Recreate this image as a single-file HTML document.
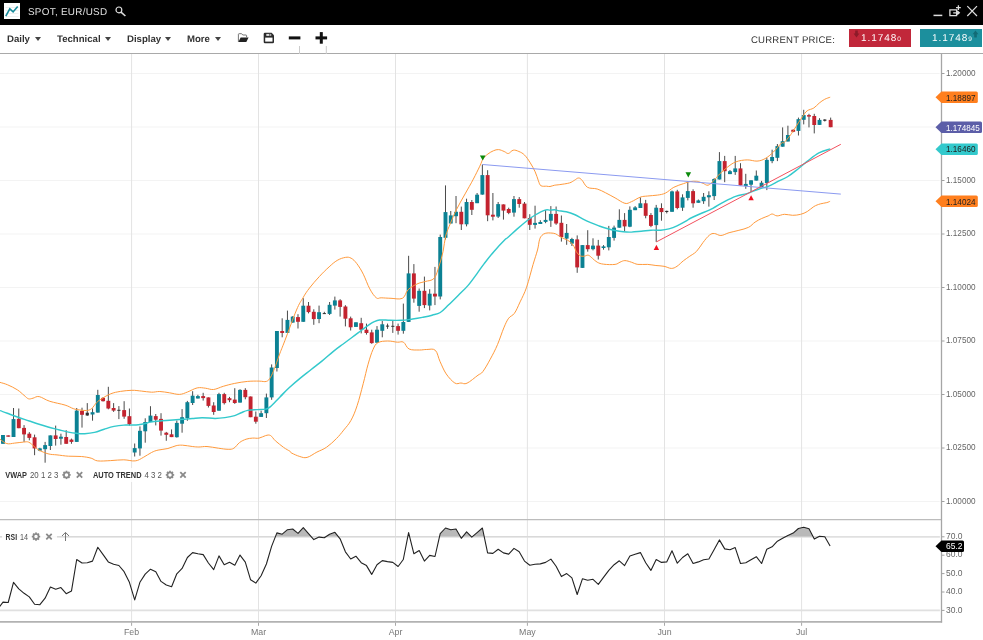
<!DOCTYPE html>
<html><head><meta charset="utf-8"><title>SPOT, EUR/USD</title>
<style>
html,body{margin:0;padding:0;background:#fff;overflow:hidden}
body{width:983px;height:640px;position:relative;font-family:"Liberation Sans",sans-serif}
#tb{position:absolute;left:0;top:0;width:983px;height:25px;background:#000}
#tb .ttl{position:absolute;left:27.5px;top:4.8px;font-size:9.9px;line-height:13px;color:#e0e0e0;letter-spacing:0.28px;white-space:nowrap;transform:rotate(0.03deg);transform-origin:0 10px}
#bar{position:absolute;left:0;top:25px;width:983px;height:28px;background:#fff;border-bottom:1px solid #a9a9a9}
.mi{position:absolute;top:8.0px;font-size:9.6px;line-height:12px;letter-spacing:0px;transform:rotate(0.03deg);transform-origin:0 9.7px;font-weight:bold;color:#333;white-space:nowrap}
.car{position:absolute;top:12.2px;width:0;height:0;border-left:3.75px solid transparent;border-right:3.75px solid transparent;border-top:4.3px solid #444}
.cp{position:absolute;left:751.3px;top:7.5px;font-size:9.6px;line-height:13px;color:#333;letter-spacing:0.19px;transform:rotate(0.03deg);transform-origin:0 10px;white-space:nowrap}
.px{position:absolute;top:4.2px;height:17.5px;width:62.4px;color:#fff;font-size:10px;line-height:17.5px;letter-spacing:0.95px;white-space:nowrap}
.px small{font-size:6.5px;letter-spacing:0}
</style></head><body>
<div id="tb">
<svg style="position:absolute;left:4px;top:3px" width="16" height="16" viewBox="0 0 16 16"><rect width="16" height="16" fill="#fff"/><path d="M1.5,13.5H14.5M1.5,10.5H14.5M1.5,7.5H14.5M1.5,4.5H14.5" stroke="#efefef" stroke-width="1"/><path d="M1.8,13.2 L5.8,5.8 L9.1,8.9 L13.7,3.4" fill="none" stroke="#178b9b" stroke-width="1.6"/></svg>
<div class="ttl">SPOT, EUR/USD</div>
<svg style="position:absolute;left:114px;top:5px" width="14" height="13" viewBox="0 0 14 13"><circle cx="4.9" cy="4.9" r="2.9" fill="none" stroke="#ddd" stroke-width="1.2"/><path d="M7,7.2 L11.4,11" stroke="#ddd" stroke-width="1.6"/></svg>
<svg style="position:absolute;left:930px;top:3px" width="50" height="16" viewBox="930 3 50 16"><path d="M933.5,15.4H942.3" stroke="#ddd" stroke-width="1.5"/><path d="M949.9,9.8H956.6V15.6H949.9Z M953.2,12.8H959 M957.3,11 L959.3,12.8 L957.3,14.6 M958.4,5.3V10 M956,7.7H960.8" fill="none" stroke="#ddd" stroke-width="1.3"/><path d="M967.3,6.2 L977,16 M977,6.2 L967.3,16" stroke="#ddd" stroke-width="1.2"/></svg>
</div>
<div id="bar">
<div class="mi" style="left:6.8px">Daily</div><div class="car" style="left:34.6px"></div>
<div class="mi" style="left:57px">Technical</div><div class="car" style="left:104.9px"></div>
<div class="mi" style="left:126.8px">Display</div><div class="car" style="left:165.1px"></div>
<div class="mi" style="left:187px">More</div><div class="car" style="left:215px"></div>
<svg style="position:absolute;left:236px;top:6px" width="95" height="23" viewBox="236 31 95 23">
<path d="M238.4,41.8 V34.4 Q238.4,33.7 239.1,33.7 H241.6 L242.8,35 H246 Q246.6,35 246.6,35.7 V37.2" fill="#fff" stroke="#666" stroke-width="0.9"/>
<path d="M240.6,37.4 H248.6 L246.3,42 H238.4 Z" fill="#222"/>
<path d="M264.9,32.8 H271.6 L274,35.2 V42.1 Q274,43.3 272.8,43.3 H264.9 Q263.7,43.3 263.7,42.1 V34 Q263.7,32.8 264.9,32.8 Z" fill="#2a2a2a"/><rect x="266.3" y="33.9" width="4.9" height="2" fill="#ddd"/><rect x="269.2" y="33.9" width="1.2" height="2" fill="#555"/><rect x="265.2" y="37.6" width="7.3" height="4" fill="#fff"/>
<rect x="288.8" y="36.4" width="11.6" height="3" fill="#111"/>
<rect x="315.5" y="36.4" width="11.6" height="3" fill="#111"/><rect x="319.8" y="32.1" width="3" height="11.6" fill="#111"/>
<path d="M299.5,46 V54 M326.3,46 V54" stroke="#ccc" stroke-width="1"/>
</svg>
<div class="cp">CURRENT PRICE:</div>
<div class="px" style="left:849px;background:#c1273a"><span style="position:absolute;left:11.7px;top:0px;transform:rotate(0.03deg)">1.1748<small>0</small></span>
<svg style="position:absolute;left:4px;top:1px" width="7" height="8" viewBox="0 0 7 8"><path d="M2.2,0.4 H4.8 V3.6 H6.4 L3.5,7.4 L0.6,3.6 H2.2 Z" fill="#8c1b29"/></svg></div>
<div class="px" style="left:919.5px;background:#1c8f9d"><span style="position:absolute;left:12.6px;top:0px;transform:rotate(0.03deg)">1.1748<small>9</small></span>
<svg style="position:absolute;left:52px;top:1px" width="7" height="8" viewBox="0 0 7 8"><path d="M2.2,7.4 H4.8 V4.2 H6.4 L3.5,0.4 L0.6,4.2 H2.2 Z" fill="#126b76"/></svg></div>
</div>
<svg width="983" height="586" viewBox="0 54 983 586" style="position:absolute;left:0;top:54px" font-family="Liberation Sans, sans-serif">
<g stroke="#f3f3f3" stroke-width="1">
<line x1="0" y1="73.5" x2="939.7" y2="73.5"/>
<line x1="0" y1="127.0" x2="939.7" y2="127.0"/>
<line x1="0" y1="180.5" x2="939.7" y2="180.5"/>
<line x1="0" y1="234.0" x2="939.7" y2="234.0"/>
<line x1="0" y1="287.5" x2="939.7" y2="287.5"/>
<line x1="0" y1="341.0" x2="939.7" y2="341.0"/>
<line x1="0" y1="394.5" x2="939.7" y2="394.5"/>
<line x1="0" y1="448.0" x2="939.7" y2="448.0"/>
<line x1="0" y1="501.5" x2="939.7" y2="501.5"/>
</g>
<g stroke="#e3e3e3" stroke-width="1">
<line x1="131.6" y1="54" x2="131.6" y2="621"/>
<line x1="258.5" y1="54" x2="258.5" y2="621"/>
<line x1="395.5" y1="54" x2="395.5" y2="621"/>
<line x1="527.4" y1="54" x2="527.4" y2="621"/>
<line x1="664.5" y1="54" x2="664.5" y2="621"/>
<line x1="801.6" y1="54" x2="801.6" y2="621"/>
</g>
<g stroke="#a8a8a8" stroke-width="1">
<line x1="131.6" y1="622.4" x2="131.6" y2="625.8"/>
<line x1="258.5" y1="622.4" x2="258.5" y2="625.8"/>
<line x1="395.5" y1="622.4" x2="395.5" y2="625.8"/>
<line x1="527.4" y1="622.4" x2="527.4" y2="625.8"/>
<line x1="664.5" y1="622.4" x2="664.5" y2="625.8"/>
<line x1="801.6" y1="622.4" x2="801.6" y2="625.8"/>
</g>
<g stroke="#e0e0e0" stroke-width="1.6">
<line x1="0" y1="536.9" x2="939.9" y2="536.9"/>
<line x1="0" y1="610.4" x2="939.9" y2="610.4"/>
</g>
<line x1="0" y1="519.7" x2="941.5" y2="519.6" stroke="#bcbcbc" stroke-width="1.3"/>
<line x1="0" y1="621.8" x2="942.1" y2="621.8" stroke="#b2b2b2" stroke-width="1.7"/>
<line x1="941.5" y1="54" x2="941.5" y2="622.4" stroke="#a6a6a6" stroke-width="1.3"/>
<g stroke="#a0a0a0" stroke-width="1">
<line x1="941.5" y1="73.5" x2="944.5" y2="73.5"/>
<line x1="941.5" y1="127.0" x2="944.5" y2="127.0"/>
<line x1="941.5" y1="180.5" x2="944.5" y2="180.5"/>
<line x1="941.5" y1="234.0" x2="944.5" y2="234.0"/>
<line x1="941.5" y1="287.5" x2="944.5" y2="287.5"/>
<line x1="941.5" y1="341.0" x2="944.5" y2="341.0"/>
<line x1="941.5" y1="394.5" x2="944.5" y2="394.5"/>
<line x1="941.5" y1="448.0" x2="944.5" y2="448.0"/>
<line x1="941.5" y1="501.5" x2="944.5" y2="501.5"/>
<line x1="941.5" y1="536.8" x2="944.5" y2="536.8"/>
<line x1="941.5" y1="555.2" x2="944.5" y2="555.2"/>
<line x1="941.5" y1="573.6" x2="944.5" y2="573.6"/>
<line x1="941.5" y1="592.0" x2="944.5" y2="592.0"/>
<line x1="941.5" y1="610.4" x2="944.5" y2="610.4"/>
</g>
<g stroke="#4a4a4a" stroke-width="1"><line x1="2.98" y1="435.0" x2="2.98" y2="443.8"/><line x1="8.25" y1="435.4" x2="8.25" y2="436.7"/><line x1="13.52" y1="408.0" x2="13.52" y2="437.0"/><line x1="18.78" y1="408.5" x2="18.78" y2="428.2"/><line x1="24.05" y1="425.1" x2="24.05" y2="441.9"/><line x1="29.32" y1="432.1" x2="29.32" y2="440.3"/><line x1="34.59" y1="434.6" x2="34.59" y2="455.2"/><line x1="39.86" y1="447.8" x2="39.86" y2="451.2"/><line x1="45.12" y1="441.9" x2="45.12" y2="462.7"/><line x1="50.39" y1="435.4" x2="50.39" y2="450.0"/><line x1="55.66" y1="425.6" x2="55.66" y2="445.6"/><line x1="60.93" y1="433.7" x2="60.93" y2="444.7"/><line x1="66.20" y1="430.2" x2="66.20" y2="443.8"/><line x1="71.46" y1="438.6" x2="71.46" y2="443.8"/><line x1="76.73" y1="408.0" x2="76.73" y2="441.9"/><line x1="82.00" y1="407.7" x2="82.00" y2="427.6"/><line x1="87.27" y1="403.1" x2="87.27" y2="415.8"/><line x1="92.54" y1="408.5" x2="92.54" y2="420.7"/><line x1="97.80" y1="389.8" x2="97.80" y2="412.6"/><line x1="103.07" y1="397.1" x2="103.07" y2="401.5"/><line x1="108.34" y1="386.8" x2="108.34" y2="409.3"/><line x1="113.61" y1="403.1" x2="113.61" y2="411.9"/><line x1="118.88" y1="406.1" x2="118.88" y2="419.1"/><line x1="124.14" y1="401.2" x2="124.14" y2="418.8"/><line x1="129.41" y1="408.5" x2="129.41" y2="425.6"/><line x1="134.68" y1="443.5" x2="134.68" y2="456.5"/><line x1="139.95" y1="426.4" x2="139.95" y2="455.7"/><line x1="145.22" y1="418.3" x2="145.22" y2="442.7"/><line x1="150.48" y1="406.2" x2="150.48" y2="422.1"/><line x1="155.75" y1="414.0" x2="155.75" y2="425.4"/><line x1="161.02" y1="413.2" x2="161.02" y2="435.6"/><line x1="166.29" y1="431.9" x2="166.29" y2="440.8"/><line x1="171.56" y1="429.4" x2="171.56" y2="437.1"/><line x1="176.82" y1="420.5" x2="176.82" y2="437.6"/><line x1="182.09" y1="409.1" x2="182.09" y2="432.7"/><line x1="187.36" y1="400.9" x2="187.36" y2="420.8"/><line x1="192.63" y1="391.2" x2="192.63" y2="405.0"/><line x1="197.90" y1="394.8" x2="197.90" y2="398.5"/><line x1="203.16" y1="392.8" x2="203.16" y2="400.6"/><line x1="208.43" y1="397.4" x2="208.43" y2="407.5"/><line x1="213.70" y1="402.2" x2="213.70" y2="414.8"/><line x1="218.97" y1="392.8" x2="218.97" y2="410.7"/><line x1="224.24" y1="392.8" x2="224.24" y2="404.5"/><line x1="229.50" y1="396.9" x2="229.50" y2="402.2"/><line x1="234.77" y1="388.2" x2="234.77" y2="403.9"/><line x1="240.04" y1="389.2" x2="240.04" y2="402.6"/><line x1="245.31" y1="388.2" x2="245.31" y2="399.3"/><line x1="250.58" y1="396.5" x2="250.58" y2="417.2"/><line x1="255.84" y1="411.5" x2="255.84" y2="423.7"/><line x1="261.11" y1="410.7" x2="261.11" y2="416.9"/><line x1="266.38" y1="393.6" x2="266.38" y2="418.0"/><line x1="271.65" y1="364.4" x2="271.65" y2="399.8"/><line x1="276.92" y1="331.0" x2="276.92" y2="371.5"/><line x1="282.18" y1="318.3" x2="282.18" y2="337.3"/><line x1="287.45" y1="310.6" x2="287.45" y2="332.9"/><line x1="292.72" y1="316.2" x2="292.72" y2="322.7"/><line x1="297.99" y1="314.2" x2="297.99" y2="328.5"/><line x1="303.26" y1="298.2" x2="303.26" y2="321.9"/><line x1="308.52" y1="302.0" x2="308.52" y2="313.4"/><line x1="313.79" y1="309.3" x2="313.79" y2="324.8"/><line x1="319.06" y1="305.6" x2="319.06" y2="323.2"/><line x1="324.33" y1="311.8" x2="324.33" y2="313.9"/><line x1="329.60" y1="302.0" x2="329.60" y2="315.0"/><line x1="334.86" y1="296.6" x2="334.86" y2="309.6"/><line x1="340.13" y1="299.2" x2="340.13" y2="316.6"/><line x1="345.40" y1="305.2" x2="345.40" y2="326.4"/><line x1="350.67" y1="316.6" x2="350.67" y2="330.5"/><line x1="355.94" y1="322.3" x2="355.94" y2="326.9"/><line x1="361.20" y1="317.8" x2="361.20" y2="333.4"/><line x1="366.47" y1="323.6" x2="366.47" y2="334.6"/><line x1="371.74" y1="329.7" x2="371.74" y2="343.8"/><line x1="377.01" y1="326.1" x2="377.01" y2="342.7"/><line x1="382.28" y1="321.0" x2="382.28" y2="337.3"/><line x1="387.54" y1="323.6" x2="387.54" y2="328.9"/><line x1="392.81" y1="321.0" x2="392.81" y2="332.9"/><line x1="398.08" y1="323.6" x2="398.08" y2="334.6"/><line x1="403.35" y1="303.6" x2="403.35" y2="333.7"/><line x1="408.62" y1="255.8" x2="408.62" y2="321.9"/><line x1="413.88" y1="264.1" x2="413.88" y2="302.7"/><line x1="419.15" y1="288.5" x2="419.15" y2="311.7"/><line x1="424.42" y1="276.6" x2="424.42" y2="308.1"/><line x1="429.69" y1="289.2" x2="429.69" y2="310.4"/><line x1="434.96" y1="266.9" x2="434.96" y2="305.1"/><line x1="440.22" y1="234.6" x2="440.22" y2="299.4"/><line x1="445.49" y1="185.4" x2="445.49" y2="239.5"/><line x1="450.76" y1="211.0" x2="450.76" y2="223.5"/><line x1="456.03" y1="196.0" x2="456.03" y2="223.2"/><line x1="461.30" y1="206.6" x2="461.30" y2="230.0"/><line x1="466.56" y1="198.7" x2="466.56" y2="226.4"/><line x1="471.83" y1="200.0" x2="471.83" y2="215.0"/><line x1="477.10" y1="193.0" x2="477.10" y2="203.1"/><line x1="482.37" y1="164.5" x2="482.37" y2="194.7"/><line x1="487.64" y1="170.2" x2="487.64" y2="221.2"/><line x1="492.90" y1="193.0" x2="492.90" y2="220.4"/><line x1="498.17" y1="202.0" x2="498.17" y2="218.0"/><line x1="503.44" y1="204.4" x2="503.44" y2="219.6"/><line x1="508.71" y1="207.7" x2="508.71" y2="214.2"/><line x1="513.98" y1="196.0" x2="513.98" y2="216.7"/><line x1="519.24" y1="197.1" x2="519.24" y2="207.7"/><line x1="524.51" y1="202.0" x2="524.51" y2="218.3"/><line x1="529.78" y1="214.2" x2="529.78" y2="230.0"/><line x1="535.05" y1="205.7" x2="535.05" y2="228.6"/><line x1="540.32" y1="220.2" x2="540.32" y2="224.0"/><line x1="545.58" y1="210.1" x2="545.58" y2="223.2"/><line x1="550.85" y1="206.1" x2="550.85" y2="226.9"/><line x1="556.12" y1="206.5" x2="556.12" y2="224.8"/><line x1="561.39" y1="215.5" x2="561.39" y2="241.6"/><line x1="566.66" y1="224.0" x2="566.66" y2="244.8"/><line x1="571.92" y1="237.8" x2="571.92" y2="246.0"/><line x1="577.19" y1="235.4" x2="577.19" y2="272.8"/><line x1="582.46" y1="245.1" x2="582.46" y2="267.9"/><line x1="587.73" y1="230.2" x2="587.73" y2="251.7"/><line x1="593.00" y1="238.3" x2="593.00" y2="250.4"/><line x1="598.26" y1="239.9" x2="598.26" y2="259.5"/><line x1="603.53" y1="245.1" x2="603.53" y2="249.7"/><line x1="608.80" y1="225.9" x2="608.80" y2="250.4"/><line x1="614.07" y1="225.6" x2="614.07" y2="240.6"/><line x1="619.34" y1="209.3" x2="619.34" y2="227.7"/><line x1="624.60" y1="213.1" x2="624.60" y2="231.3"/><line x1="629.87" y1="206.4" x2="629.87" y2="227.2"/><line x1="635.14" y1="206.1" x2="635.14" y2="210.1"/><line x1="640.41" y1="197.4" x2="640.41" y2="208.0"/><line x1="645.68" y1="199.9" x2="645.68" y2="218.3"/><line x1="650.94" y1="213.1" x2="650.94" y2="227.2"/><line x1="656.21" y1="204.9" x2="656.21" y2="241.9"/><line x1="661.48" y1="203.3" x2="661.48" y2="220.7"/><line x1="666.75" y1="210.6" x2="666.75" y2="213.4"/><line x1="672.02" y1="190.6" x2="672.02" y2="211.8"/><line x1="677.28" y1="189.8" x2="677.28" y2="209.3"/><line x1="682.55" y1="194.3" x2="682.55" y2="210.9"/><line x1="687.82" y1="181.3" x2="687.82" y2="200.4"/><line x1="693.09" y1="189.3" x2="693.09" y2="207.7"/><line x1="698.36" y1="199.5" x2="698.36" y2="202.8"/><line x1="703.62" y1="193.0" x2="703.62" y2="203.9"/><line x1="708.89" y1="191.3" x2="708.89" y2="206.6"/><line x1="714.16" y1="178.2" x2="714.16" y2="200.0"/><line x1="719.43" y1="152.1" x2="719.43" y2="179.5"/><line x1="724.70" y1="155.9" x2="724.70" y2="182.2"/><line x1="729.96" y1="170.0" x2="729.96" y2="174.1"/><line x1="735.23" y1="155.9" x2="735.23" y2="174.9"/><line x1="740.50" y1="163.2" x2="740.50" y2="185.5"/><line x1="745.77" y1="173.8" x2="745.77" y2="188.8"/><line x1="751.04" y1="180.3" x2="751.04" y2="192.0"/><line x1="756.30" y1="170.5" x2="756.30" y2="180.6"/><line x1="761.57" y1="180.9" x2="761.57" y2="187.9"/><line x1="766.84" y1="157.8" x2="766.84" y2="190.1"/><line x1="772.11" y1="149.7" x2="772.11" y2="163.2"/><line x1="777.38" y1="144.0" x2="777.38" y2="161.1"/><line x1="782.64" y1="127.4" x2="782.64" y2="146.7"/><line x1="787.91" y1="125.7" x2="787.91" y2="141.5"/><line x1="793.18" y1="129.3" x2="793.18" y2="132.2"/><line x1="798.45" y1="117.6" x2="798.45" y2="135.5"/><line x1="803.72" y1="109.8" x2="803.72" y2="124.4"/><line x1="808.98" y1="113.8" x2="808.98" y2="127.4"/><line x1="814.25" y1="113.8" x2="814.25" y2="133.4"/><line x1="819.52" y1="118.2" x2="819.52" y2="124.9"/><line x1="824.79" y1="119.2" x2="824.79" y2="121.5"/><line x1="830.66" y1="117.6" x2="830.66" y2="127.2"/></g>
<g><rect x="1.03" y="435.0" width="3.9" height="8.8" fill="#0b8193"/><rect x="6.30" y="435.4" width="3.9" height="1.3" fill="#c3232f"/><rect x="11.57" y="419.1" width="3.9" height="17.9" fill="#0b8193"/><rect x="16.83" y="418.8" width="3.9" height="9.4" fill="#c3232f"/><rect x="22.10" y="427.9" width="3.9" height="6.5" fill="#c3232f"/><rect x="27.37" y="433.7" width="3.9" height="4.2" fill="#c3232f"/><rect x="32.64" y="437.3" width="3.9" height="11.1" fill="#c3232f"/><rect x="37.91" y="448.4" width="3.9" height="2.3" fill="#0b8193"/><rect x="43.17" y="445.1" width="3.9" height="4.1" fill="#0b8193"/><rect x="48.44" y="435.4" width="3.9" height="10.6" fill="#0b8193"/><rect x="53.71" y="435.4" width="3.9" height="3.6" fill="#c3232f"/><rect x="58.98" y="436.7" width="3.9" height="2.0" fill="#0b8193"/><rect x="64.25" y="437.0" width="3.9" height="6.8" fill="#c3232f"/><rect x="69.51" y="439.6" width="3.9" height="2.3" fill="#c3232f"/><rect x="74.78" y="410.6" width="3.9" height="31.3" fill="#0b8193"/><rect x="80.05" y="410.9" width="3.9" height="3.9" fill="#c3232f"/><rect x="85.67" y="412.7" width="3.2" height="2.8" fill="#303030"/><rect x="90.59" y="412.2" width="3.9" height="2.3" fill="#0b8193"/><rect x="95.85" y="395.0" width="3.9" height="17.6" fill="#0b8193"/><rect x="101.12" y="397.9" width="3.9" height="3.3" fill="#c3232f"/><rect x="106.39" y="400.8" width="3.9" height="7.7" fill="#c3232f"/><rect x="111.66" y="408.0" width="3.9" height="2.6" fill="#c3232f"/><rect x="117.28" y="409.8" width="3.2" height="1.0" fill="#303030"/><rect x="122.19" y="410.1" width="3.9" height="6.5" fill="#c3232f"/><rect x="127.46" y="416.2" width="3.9" height="8.1" fill="#c3232f"/><rect x="132.73" y="448.1" width="3.9" height="4.4" fill="#0b8193"/><rect x="138.00" y="430.8" width="3.9" height="17.6" fill="#0b8193"/><rect x="143.27" y="422.0" width="3.9" height="9.3" fill="#0b8193"/><rect x="148.53" y="415.6" width="3.9" height="6.5" fill="#0b8193"/><rect x="153.80" y="416.1" width="3.9" height="3.6" fill="#c3232f"/><rect x="159.07" y="418.9" width="3.9" height="11.7" fill="#c3232f"/><rect x="164.34" y="432.7" width="3.9" height="2.1" fill="#c3232f"/><rect x="169.61" y="434.3" width="3.9" height="2.8" fill="#c3232f"/><rect x="174.87" y="422.9" width="3.9" height="14.3" fill="#0b8193"/><rect x="180.14" y="417.2" width="3.9" height="6.5" fill="#0b8193"/><rect x="185.41" y="402.2" width="3.9" height="15.8" fill="#0b8193"/><rect x="190.68" y="395.7" width="3.9" height="7.3" fill="#0b8193"/><rect x="195.95" y="396.1" width="3.9" height="2.4" fill="#0b8193"/><rect x="201.21" y="396.1" width="3.9" height="2.0" fill="#c3232f"/><rect x="206.48" y="397.4" width="3.9" height="8.5" fill="#c3232f"/><rect x="211.75" y="405.5" width="3.9" height="6.5" fill="#c3232f"/><rect x="217.02" y="394.1" width="3.9" height="16.6" fill="#0b8193"/><rect x="222.29" y="394.1" width="3.9" height="9.0" fill="#c3232f"/><rect x="227.55" y="398.2" width="3.9" height="2.0" fill="#c3232f"/><rect x="232.82" y="399.6" width="3.9" height="3.4" fill="#c3232f"/><rect x="238.09" y="389.9" width="3.9" height="12.7" fill="#0b8193"/><rect x="243.36" y="389.9" width="3.9" height="7.3" fill="#c3232f"/><rect x="248.63" y="396.5" width="3.9" height="20.7" fill="#c3232f"/><rect x="253.89" y="416.7" width="3.9" height="5.0" fill="#c3232f"/><rect x="259.16" y="413.2" width="3.9" height="3.7" fill="#0b8193"/><rect x="264.43" y="397.4" width="3.9" height="15.8" fill="#0b8193"/><rect x="269.70" y="367.5" width="3.9" height="29.9" fill="#0b8193"/><rect x="274.97" y="331.0" width="3.9" height="37.0" fill="#0b8193"/><rect x="280.23" y="331.0" width="3.9" height="2.0" fill="#c3232f"/><rect x="285.50" y="319.9" width="3.9" height="13.0" fill="#0b8193"/><rect x="290.77" y="316.6" width="3.9" height="6.0" fill="#0b8193"/><rect x="296.04" y="317.1" width="3.9" height="4.7" fill="#c3232f"/><rect x="301.31" y="305.7" width="3.9" height="16.1" fill="#0b8193"/><rect x="306.57" y="305.7" width="3.9" height="6.4" fill="#c3232f"/><rect x="311.84" y="311.8" width="3.9" height="7.3" fill="#c3232f"/><rect x="317.11" y="312.2" width="3.9" height="6.8" fill="#0b8193"/><rect x="322.73" y="313.1" width="3.2" height="1.0" fill="#303030"/><rect x="327.65" y="304.8" width="3.9" height="9.1" fill="#0b8193"/><rect x="332.91" y="300.4" width="3.9" height="5.2" fill="#0b8193"/><rect x="338.18" y="300.4" width="3.9" height="6.5" fill="#c3232f"/><rect x="343.45" y="306.5" width="3.9" height="12.2" fill="#c3232f"/><rect x="348.72" y="318.3" width="3.9" height="9.0" fill="#c3232f"/><rect x="353.99" y="322.3" width="3.9" height="4.6" fill="#0b8193"/><rect x="359.25" y="323.2" width="3.9" height="6.5" fill="#c3232f"/><rect x="364.52" y="329.7" width="3.9" height="3.3" fill="#c3232f"/><rect x="369.79" y="332.4" width="3.9" height="10.7" fill="#c3232f"/><rect x="375.06" y="329.7" width="3.9" height="13.0" fill="#0b8193"/><rect x="380.33" y="324.3" width="3.9" height="6.5" fill="#0b8193"/><rect x="385.94" y="325.6" width="3.2" height="1.0" fill="#303030"/><rect x="391.21" y="325.8" width="3.2" height="1.0" fill="#303030"/><rect x="396.13" y="326.1" width="3.9" height="4.7" fill="#c3232f"/><rect x="401.40" y="322.0" width="3.9" height="8.8" fill="#0b8193"/><rect x="406.67" y="273.4" width="3.9" height="48.5" fill="#0b8193"/><rect x="411.93" y="273.4" width="3.9" height="25.2" fill="#c3232f"/><rect x="417.20" y="290.8" width="3.9" height="15.1" fill="#0b8193"/><rect x="422.47" y="290.8" width="3.9" height="14.3" fill="#c3232f"/><rect x="427.74" y="293.7" width="3.9" height="11.9" fill="#0b8193"/><rect x="433.01" y="293.7" width="3.9" height="2.8" fill="#c3232f"/><rect x="438.27" y="237.0" width="3.9" height="59.5" fill="#0b8193"/><rect x="443.54" y="212.1" width="3.9" height="25.7" fill="#0b8193"/><rect x="448.81" y="215.4" width="3.9" height="8.1" fill="#0b8193"/><rect x="454.08" y="211.8" width="3.9" height="4.4" fill="#0b8193"/><rect x="459.35" y="211.8" width="3.9" height="12.5" fill="#c3232f"/><rect x="464.61" y="202.0" width="3.9" height="22.3" fill="#0b8193"/><rect x="469.88" y="202.0" width="3.9" height="7.8" fill="#c3232f"/><rect x="475.15" y="194.7" width="3.9" height="8.5" fill="#0b8193"/><rect x="480.42" y="175.1" width="3.9" height="19.5" fill="#0b8193"/><rect x="485.69" y="175.1" width="3.9" height="40.2" fill="#c3232f"/><rect x="490.95" y="214.7" width="3.9" height="2.0" fill="#c3232f"/><rect x="496.22" y="204.1" width="3.9" height="12.5" fill="#0b8193"/><rect x="501.49" y="204.4" width="3.9" height="6.2" fill="#c3232f"/><rect x="506.76" y="209.0" width="3.9" height="3.9" fill="#c3232f"/><rect x="512.03" y="199.1" width="3.9" height="13.5" fill="#0b8193"/><rect x="517.29" y="199.1" width="3.9" height="4.9" fill="#c3232f"/><rect x="522.56" y="203.6" width="3.9" height="14.7" fill="#c3232f"/><rect x="527.83" y="218.0" width="3.9" height="6.8" fill="#c3232f"/><rect x="533.10" y="222.9" width="3.9" height="2.0" fill="#0b8193"/><rect x="538.37" y="222.0" width="3.9" height="2.0" fill="#0b8193"/><rect x="543.63" y="219.9" width="3.9" height="2.0" fill="#0b8193"/><rect x="548.90" y="213.9" width="3.9" height="6.8" fill="#0b8193"/><rect x="554.17" y="213.9" width="3.9" height="9.6" fill="#c3232f"/><rect x="559.44" y="222.8" width="3.9" height="14.2" fill="#c3232f"/><rect x="564.71" y="232.9" width="3.9" height="5.7" fill="#0b8193"/><rect x="569.97" y="239.0" width="3.9" height="4.6" fill="#0b8193"/><rect x="575.24" y="239.4" width="3.9" height="28.0" fill="#c3232f"/><rect x="580.51" y="245.1" width="3.9" height="22.8" fill="#0b8193"/><rect x="585.78" y="245.1" width="3.9" height="4.1" fill="#c3232f"/><rect x="591.05" y="245.6" width="3.9" height="3.6" fill="#0b8193"/><rect x="596.31" y="245.6" width="3.9" height="10.1" fill="#c3232f"/><rect x="601.58" y="246.4" width="3.9" height="1.6" fill="#0b8193"/><rect x="606.85" y="237.0" width="3.9" height="10.3" fill="#0b8193"/><rect x="612.12" y="227.6" width="3.9" height="10.3" fill="#0b8193"/><rect x="617.39" y="219.9" width="3.9" height="7.8" fill="#0b8193"/><rect x="622.65" y="219.9" width="3.9" height="6.5" fill="#c3232f"/><rect x="627.92" y="209.8" width="3.9" height="16.9" fill="#0b8193"/><rect x="633.19" y="207.4" width="3.9" height="2.8" fill="#0b8193"/><rect x="638.46" y="203.3" width="3.9" height="4.7" fill="#0b8193"/><rect x="643.73" y="203.3" width="3.9" height="12.5" fill="#c3232f"/><rect x="648.99" y="215.0" width="3.9" height="10.9" fill="#c3232f"/><rect x="654.26" y="207.7" width="3.9" height="17.4" fill="#0b8193"/><rect x="659.53" y="208.0" width="3.9" height="4.1" fill="#c3232f"/><rect x="665.15" y="210.9" width="3.2" height="1.1" fill="#303030"/><rect x="670.07" y="191.4" width="3.9" height="20.4" fill="#0b8193"/><rect x="675.33" y="191.4" width="3.9" height="16.6" fill="#c3232f"/><rect x="680.60" y="197.4" width="3.9" height="10.3" fill="#0b8193"/><rect x="685.87" y="191.1" width="3.9" height="6.8" fill="#0b8193"/><rect x="691.14" y="191.1" width="3.9" height="12.2" fill="#c3232f"/><rect x="696.41" y="200.4" width="3.9" height="2.4" fill="#0b8193"/><rect x="701.67" y="196.8" width="3.9" height="4.4" fill="#0b8193"/><rect x="706.94" y="195.2" width="3.9" height="2.1" fill="#0b8193"/><rect x="712.21" y="179.0" width="3.9" height="17.1" fill="#0b8193"/><rect x="717.48" y="161.1" width="3.9" height="18.4" fill="#0b8193"/><rect x="722.75" y="161.1" width="3.9" height="10.1" fill="#c3232f"/><rect x="728.01" y="171.2" width="3.9" height="2.9" fill="#0b8193"/><rect x="733.28" y="168.4" width="3.9" height="3.7" fill="#0b8193"/><rect x="738.55" y="168.4" width="3.9" height="17.1" fill="#c3232f"/><rect x="743.82" y="183.9" width="3.9" height="2.1" fill="#0b8193"/><rect x="749.09" y="180.3" width="3.9" height="4.4" fill="#0b8193"/><rect x="754.35" y="175.7" width="3.9" height="4.9" fill="#0b8193"/><rect x="759.62" y="182.7" width="3.9" height="4.4" fill="#0b8193"/><rect x="764.89" y="159.9" width="3.9" height="23.1" fill="#0b8193"/><rect x="770.16" y="157.0" width="3.9" height="4.1" fill="#0b8193"/><rect x="775.43" y="146.1" width="3.9" height="11.7" fill="#0b8193"/><rect x="780.69" y="141.2" width="3.9" height="5.5" fill="#0b8193"/><rect x="785.96" y="135.0" width="3.9" height="6.5" fill="#0b8193"/><rect x="791.23" y="129.8" width="3.9" height="2.0" fill="#c3232f"/><rect x="796.50" y="119.2" width="3.9" height="11.7" fill="#0b8193"/><rect x="801.77" y="115.1" width="3.9" height="4.7" fill="#0b8193"/><rect x="807.03" y="115.1" width="3.9" height="1.5" fill="#c3232f"/><rect x="812.30" y="116.0" width="3.9" height="9.0" fill="#c3232f"/><rect x="817.57" y="119.9" width="3.9" height="5.0" fill="#0b8193"/><rect x="823.19" y="119.5" width="3.2" height="1.3" fill="#303030"/><rect x="828.71" y="119.9" width="3.9" height="7.3" fill="#c3232f"/></g>
<path d="M0,382.4 C1.4,382.8 4.5,383.5 7.6,384.8 C10.7,386.1 14.3,387.9 17.3,389.8 C20.3,391.7 22.0,393.7 24,395.3 C26.0,396.9 26.9,398.3 28.5,398.8 C30.1,399.3 31.1,398.6 33,398.2 C34.9,397.8 36.2,396.0 39.2,396.6 C42.2,397.2 45.1,399.8 49.8,401.3 C54.5,402.8 60.9,403.8 65.1,405.1 C69.3,406.4 70.6,407.7 73.2,408.6 C75.8,409.5 76.9,409.6 79.3,409.9 C81.7,410.2 84.3,410.7 86.5,410.5 C88.7,410.3 89.8,410.0 91.6,408.6 C93.4,407.2 94.8,404.4 96.6,402.6 C98.4,400.8 99.3,400.3 101.8,398.7 C104.3,397.1 107.3,395.1 110.7,393.8 C114.1,392.5 116.7,392.0 120.5,391.4 C124.3,390.8 128.1,390.4 131.9,390.3 C135.7,390.2 138.2,390.8 141.7,391.1 C145.2,391.4 148.2,392.1 151.5,392.2 C154.8,392.3 156.6,391.4 159.8,391.5 C163.0,391.6 166.0,392.3 169.5,392.8 C173.0,393.3 176.1,394.5 179.3,394.4 C182.5,394.3 184.3,393.2 187.5,392.0 C190.7,390.8 194.0,388.6 197.2,387.9 C200.4,387.2 202.5,387.9 205.4,388.2 C208.3,388.5 210.3,389.8 213.5,389.5 C216.7,389.2 219.5,387.4 223.3,386.3 C227.1,385.2 230.3,384.3 234.7,383.4 C239.1,382.5 243.3,381.8 247.7,381.4 C252.1,381.0 255.7,381.1 259.1,381.1 C262.5,381.1 264.3,382.1 266.4,381.4 C268.5,380.7 269.1,379.6 270.5,377.3 C271.9,375.0 272.8,372.8 274.4,368.8 C276.0,364.8 277.4,360.0 279.3,354.9 C281.2,349.8 281.9,348.4 285.0,340.3 C288.1,332.2 293.3,317.6 296.5,310.0 C299.7,302.4 300.7,301.8 303.0,297.8 C305.3,293.8 306.6,291.8 309.5,288.0 C312.4,284.2 315.8,280.4 319.3,276.6 C322.8,272.8 325.9,269.8 329.1,266.9 C332.3,264.0 334.3,262.1 337.2,260.4 C340.1,258.7 342.9,257.8 345.4,257.4 C347.9,257.0 349.0,257.1 351.1,258.2 C353.2,259.3 354.6,260.7 356.8,263.6 C359.0,266.5 361.0,269.6 363.3,274.2 C365.6,278.8 367.5,284.7 369.8,288.9 C372.1,293.1 374.2,296.2 376.3,297.8 C378.4,299.4 378.6,297.7 381.2,297.8 C383.8,297.9 387.2,298.2 391.0,298.3 C394.8,298.4 399.3,299.8 402.4,298.3 C405.5,296.8 405.5,292.3 408.1,289.7 C410.7,287.1 413.9,285.5 417.0,284.0 C420.1,282.5 422.1,282.5 425.2,281.5 C428.3,280.5 431.6,281.1 434.1,278.3 C436.6,275.5 437.4,270.9 439.0,266.1 C440.6,261.3 441.9,256.8 443.1,251.4 C444.3,246.0 444.3,241.3 445.6,236.2 C446.9,231.1 448.6,227.9 450.5,223.2 C452.4,218.5 453.6,215.4 456.2,210.1 C458.8,204.8 462.0,199.5 465.1,193.9 C468.2,188.3 470.7,184.2 473.3,179.2 C475.9,174.2 478.0,169.9 479.8,166.2 C481.6,162.5 481.6,161.0 483.1,158.8 C484.6,156.6 486.0,155.5 487.9,154.0 C489.8,152.5 491.7,151.5 493.6,150.7 C495.5,149.9 496.6,149.5 498.5,149.6 C500.4,149.7 502.4,150.8 504.2,151.5 C506.0,152.2 506.7,153.7 508.3,153.5 C509.9,153.3 511.3,150.6 513.2,150.2 C515.1,149.8 516.8,150.6 518.9,151.5 C521.0,152.4 522.5,153.0 524.6,155.1 C526.7,157.2 528.4,159.9 530.3,162.9 C532.2,165.9 533.7,168.7 535.2,171.9 C536.7,175.1 537.4,178.3 538.4,180.8 C539.4,183.3 539.4,184.7 540.9,185.7 C542.4,186.7 545.0,186.1 546.6,186.2 C548.2,186.3 548.5,186.7 550.0,186.5 C551.5,186.3 552.9,185.5 554.7,185.2 C556.5,184.9 557.1,185.0 559.8,184.6 C562.5,184.2 566.9,183.7 569.5,182.9 C572.1,182.1 572.8,181.2 574.4,180.3 C576.0,179.4 577.1,178.0 578.5,178.0 C579.9,178.0 580.5,178.6 582.1,180.3 C583.7,182.0 584.8,185.7 587.5,187.3 C590.2,188.9 594.0,188.0 597.2,189.0 C600.4,190.0 602.2,191.1 605.4,192.7 C608.6,194.3 611.6,196.0 615.1,197.9 C618.6,199.8 622.0,202.6 624.9,203.3 C627.8,204.0 628.6,202.8 631.4,201.7 C634.2,200.6 637.5,198.1 640.4,197.1 C643.3,196.1 644.6,196.4 647.7,196.0 C650.8,195.6 654.3,195.6 657.5,195.1 C660.7,194.6 662.7,194.4 665.6,193.0 C668.5,191.6 670.6,189.0 673.8,187.3 C677.0,185.6 680.7,184.6 683.6,183.6 C686.5,182.6 687.8,182.0 690.1,181.6 C692.4,181.2 694.8,181.2 696.6,181.3 C698.4,181.4 698.8,181.8 700.0,182.2 C701.2,182.6 701.6,182.8 703.1,183.3 C704.6,183.8 706.2,185.7 708.1,185.2 C710.0,184.7 711.7,182.6 713.8,180.6 C715.9,178.6 717.1,176.4 719.5,174.1 C721.9,171.8 724.0,169.8 726.9,167.6 C729.8,165.4 732.1,163.3 735.8,161.9 C739.5,160.5 743.4,160.0 747.2,159.9 C751.0,159.8 753.8,161.3 757.0,161.1 C760.2,160.9 762.2,160.2 765.1,158.6 C768.0,157.0 770.4,154.9 773.3,152.1 C776.2,149.3 779.4,144.9 781.4,143.2 C783.4,141.5 782.7,143.8 784.2,142.5 C785.7,141.2 788.0,138.2 789.7,136 C791.4,133.8 791.9,132.9 793.5,130.5 C795.1,128.1 796.7,125.4 798.4,122.8 C800.1,120.2 801.2,118.5 802.8,116.3 C804.4,114.1 805.2,112.3 807.2,110.8 C809.2,109.3 811.6,109.4 813.8,108 C816.0,106.6 817.2,104.7 819.2,103.1 C821.2,101.5 822.7,100.4 824.7,99.3 C826.7,98.2 829.2,97.6 830.2,97.2" fill="none" stroke="#ff9a3c" stroke-width="1.0"/>
<path d="M0,439.2 C1.2,440.0 4.2,442.9 6.8,443.6 C9.4,444.3 11.6,443.4 14.6,443.1 C17.6,442.8 20.8,442.3 23.4,442.1 C26.0,441.9 26.9,441.4 28.8,442.2 C30.7,443.0 32.4,445.1 34.2,446.5 C36.0,447.9 36.5,448.8 39,450.1 C41.5,451.4 44.8,452.9 48,453.8 C51.2,454.7 53.3,454.5 57.0,454.9 C60.7,455.3 64.0,455.9 68.4,456.2 C72.8,456.5 77.3,456.1 81.4,456.5 C85.5,456.9 88.3,457.4 91.2,458.2 C94.1,459.0 94.2,460.5 97.7,460.9 C101.2,461.3 106.0,460.8 110.7,460.6 C115.4,460.4 119.4,459.7 123.8,459.8 C128.2,459.9 131.7,461.3 135.2,460.9 C138.7,460.5 140.4,458.9 143.3,457.4 C146.2,455.9 148.8,453.8 151.5,452.5 C154.2,451.2 155.1,450.8 158.1,450.1 C161.1,449.4 164.7,449.3 167.9,448.5 C171.1,447.7 173.5,446.3 176.1,445.7 C178.7,445.1 179.7,445.1 182.6,445.2 C185.5,445.3 189.4,446.2 192.3,446.5 C195.2,446.8 196.3,447.0 198.9,447.0 C201.5,447.0 203.5,446.3 207.0,446.5 C210.5,446.7 214.6,447.7 218.4,448.2 C222.2,448.7 225.4,449.3 228.2,449.3 C231.0,449.3 231.8,449.4 233.9,448.2 C236.0,447.0 237.4,444.1 239.6,442.5 C241.8,440.9 243.8,440.0 246.1,439.2 C248.4,438.4 250.3,438.3 252.6,438.1 C254.9,437.9 256.8,438.6 259.1,438.1 C261.4,437.7 263.5,436.1 265.6,435.6 C267.7,435.1 268.7,434.6 270.5,435.5 C272.3,436.4 273.0,438.7 275.4,440.8 C277.8,442.9 281.0,445.5 283.6,447.4 C286.2,449.3 288.5,450.3 290.0,451.3 C291.5,452.3 289.9,452.2 291.7,453.1 C293.5,454.0 297.0,455.7 299.8,456.5 C302.6,457.3 304.0,458.2 307.1,457.4 C310.2,456.6 313.4,453.9 316.9,452.1 C320.4,450.3 323.1,449.6 326.6,447.2 C330.1,444.8 333.3,441.7 336.4,438.6 C339.5,435.5 341.1,433.4 343.7,430.1 C346.3,426.8 348.6,424.7 351.0,420.3 C353.4,415.9 354.9,412.3 357.1,405.7 C359.3,399.1 361.2,391.2 363.2,383.7 C365.2,376.2 366.3,370.4 368.1,364.2 C369.9,358.0 371.2,353.4 373.0,349.5 C374.8,345.6 375.3,344.2 377.9,342.7 C380.5,341.2 384.2,341.1 387.7,341.0 C391.2,340.9 394.6,342.0 397.4,342.2 C400.2,342.4 401.4,341.0 403.5,342.2 C405.6,343.4 406.2,347.6 409.1,349.0 C412.0,350.4 416.2,349.9 419.4,350.0 C422.6,350.1 423.8,349.4 426.7,349.5 C429.6,349.6 432.9,348.1 435.3,350.3 C437.7,352.5 438.1,357.5 440.1,361.7 C442.1,365.9 443.6,370.1 446.2,373.9 C448.8,377.7 452.2,381.4 454.8,383.0 C457.4,384.6 458.7,383.0 460.9,383.0 C463.1,383.0 463.9,384.6 467.0,383.2 C470.1,381.8 475.1,377.3 478.0,375.2 C480.9,373.1 480.7,374.4 482.9,371.5 C485.1,368.6 487.6,364.1 490.2,359.3 C492.8,354.5 495.1,350.3 497.5,344.6 C499.9,338.9 501.8,332.7 503.8,327.9 C505.8,323.1 506.8,320.8 508.7,318.2 C510.6,315.6 512.3,316.2 514.4,313.3 C516.5,310.4 517.9,306.6 520.1,301.9 C522.3,297.2 524.3,293.9 526.6,287.2 C528.9,280.4 531.1,271.1 533.1,264.4 C535.1,257.7 536.3,254.4 537.5,250 C538.7,245.6 538.7,242.4 539.5,239.8 C540.3,237.2 540.8,236.6 541.9,235.4 C543.0,234.2 544.2,233.6 545.8,233.2 C547.4,232.8 548.9,232.9 550.7,233.0 C552.5,233.1 554.0,233.2 555.6,233.8 C557.2,234.4 557.9,235.5 559.5,236.4 C561.1,237.3 562.5,237.8 564.4,238.8 C566.3,239.8 568.5,240.4 570.2,241.8 C571.9,243.2 573.0,244.9 574.1,246.6 C575.2,248.3 575.1,249.9 576.2,251.5 C577.3,253.1 578.7,254.9 580.1,255.7 C581.5,256.5 582.7,256.3 584.2,256.2 C585.7,256.1 586.8,254.8 588.3,255.2 C589.8,255.6 590.7,256.9 592.3,258.2 C593.9,259.5 595.1,261.1 597.2,262.2 C599.3,263.3 600.5,263.8 603.7,264.2 C606.9,264.6 612.2,264.8 615.1,264.4 C618.0,264.0 618.2,262.9 620.0,262.2 C621.8,261.5 622.8,260.6 624.9,260.6 C627.0,260.6 629.1,261.5 631.4,262.2 C633.7,262.9 635.0,264.0 637.9,264.4 C640.8,264.8 644.5,264.2 647.7,264.4 C650.9,264.6 653.0,265.2 655.9,265.5 C658.8,265.8 661.2,265.8 664.0,266.3 C666.8,266.8 669.0,268.4 671.3,268.4 C673.6,268.4 674.8,267.7 677.0,266.3 C679.2,264.9 681.4,262.3 683.6,260.6 C685.8,258.9 686.9,258.3 689.2,256.6 C691.5,254.9 694.0,253.9 696.5,251.4 C699.0,248.9 700.7,245.4 703.0,242.5 C705.3,239.6 707.4,236.7 709.5,235.1 C711.6,233.5 712.3,233.4 714.4,233.5 C716.5,233.6 718.3,235.6 720.9,235.5 C723.5,235.4 725.9,233.6 729.1,232.7 C732.3,231.8 735.4,231.3 738.9,230.3 C742.4,229.3 745.7,228.8 748.6,227.3 C751.5,225.8 752.7,223.7 755.1,222.1 C757.5,220.5 759.3,219.6 761.7,218.5 C764.1,217.4 766.3,216.7 768.2,215.9 C770.1,215.1 770.6,214.0 772.2,214.0 C773.8,214.0 774.9,215.8 777.1,215.9 C779.3,216.0 781.7,214.4 784.5,214.3 C787.3,214.2 789.7,215.3 792.6,215.3 C795.5,215.3 798.1,215.0 800.7,214.3 C803.3,213.6 804.9,212.9 807.3,211.5 C809.7,210.1 811.5,208.0 813.8,206.6 C816.1,205.2 818.0,204.6 820.3,203.9 C822.6,203.2 825.0,203.1 826.8,202.6 C828.6,202.1 829.5,201.5 830.1,201.3" fill="none" stroke="#ff9a3c" stroke-width="1.0"/>
<path d="M0.0,410.6 C1.8,411.2 6.3,412.9 9.8,414.2 C13.3,415.5 16.0,416.6 19.5,417.8 C23.0,419.0 25.8,419.8 29.3,421.0 C32.8,422.2 35.6,423.2 39.1,424.3 C42.6,425.4 45.4,426.2 48.9,427.2 C52.4,428.2 55.1,428.8 58.6,429.7 C62.1,430.6 65.2,431.5 68.4,432.1 C71.6,432.7 73.6,433.0 76.5,433.3 C79.4,433.6 81.5,433.9 84.7,433.7 C87.9,433.5 91.0,433.2 94.5,432.4 C98.0,431.6 100.7,430.3 104.2,429.2 C107.7,428.1 110.5,427.1 114.0,426.4 C117.5,425.7 120.9,425.3 123.8,425.1 C126.7,424.9 127.7,425.2 130.3,425.1 C132.9,425.0 135.5,425.1 138.4,424.8 C141.3,424.5 144.5,423.7 146.6,423.2 C148.7,422.7 147.6,422.5 150.0,422.1 C152.4,421.7 156.3,421.3 159.8,421.0 C163.3,420.7 165.4,420.5 169.5,420.2 C173.6,419.9 178.5,419.5 182.6,419.2 C186.7,418.9 188.8,418.8 192.3,418.5 C195.8,418.2 198.0,417.7 202.1,417.7 C206.2,417.7 211.0,418.4 215.1,418.4 C219.2,418.4 221.4,418.1 224.9,417.6 C228.4,417.1 231.8,416.5 234.7,415.6 C237.6,414.7 238.9,413.6 241.2,412.7 C243.5,411.8 244.8,411.0 247.7,410.4 C250.6,409.8 254.3,409.8 257.5,409.6 C260.7,409.4 263.3,409.6 265.6,409.1 C267.9,408.6 267.9,408.8 270.5,406.6 C273.1,404.4 276.6,400.3 280,396.9 C283.4,393.5 285.7,390.9 289.4,387.5 C293.1,384.1 296.4,381.3 300.3,378.1 C304.2,374.9 307.3,372.6 311.2,369.5 C315.1,366.4 318.3,364.1 322.2,360.9 C326.1,357.7 329.4,354.6 333.1,351.6 C336.8,348.6 339.1,347.0 342.5,344.5 C345.9,342.0 348.5,340.0 351.9,337.5 C355.3,335.0 358.4,332.6 361.2,330.5 C364.0,328.4 365.2,327.3 367.5,325.8 C369.8,324.3 371.6,322.9 373.8,321.9 C376.0,320.9 376.6,320.3 379.5,320.0 C382.4,319.7 385.9,320.2 389.8,320.3 C393.7,320.4 397.1,320.5 401.2,320.3 C405.3,320.1 408.8,319.5 412.6,319.0 C416.4,318.5 418.8,318.1 422.3,317.4 C425.8,316.7 428.9,316.1 432.1,315.2 C435.3,314.3 437.4,314.3 440.3,312.5 C443.2,310.7 445.2,308.2 448.4,305.1 C451.6,302.0 454.7,298.9 458.2,295.4 C461.7,291.9 464.4,289.7 467.9,285.6 C471.4,281.5 474.8,276.6 477.7,272.6 C480.6,268.6 481.3,267.4 484.2,263.6 C487.1,259.8 490.3,255.6 494.0,251.4 C497.7,247.2 502.2,242.4 504.6,240.0 C507.0,237.6 505.2,239.8 507.5,237.8 C509.8,235.8 513.8,232.0 517.3,228.9 C520.8,225.8 523.8,223.2 527.0,220.7 C530.2,218.2 532.0,216.9 535.2,215.0 C538.4,213.1 542.3,211.0 545.0,210.1 C547.7,209.2 548.3,210.2 550.0,210.1 C551.7,210.0 553.2,209.7 554.7,209.8 C556.2,209.9 556.0,210.2 558.1,210.6 C560.2,211.0 563.4,211.1 566.3,211.8 C569.2,212.5 571.5,213.2 574.4,214.5 C577.3,215.8 579.7,217.3 582.6,218.8 C585.5,220.3 587.8,221.4 590.7,222.7 C593.6,224.0 596.0,224.9 598.9,225.9 C601.8,226.9 604.1,227.7 607.0,228.5 C609.9,229.3 612.2,229.9 615.1,230.5 C618.0,231.1 620.4,231.5 623.3,231.8 C626.2,232.1 628.2,232.2 631.4,232.1 C634.6,232.0 637.7,231.6 641.2,231.3 C644.7,231.0 647.5,230.4 651.0,230.2 C654.5,230.0 657.5,230.4 660.7,230.2 C663.9,230.0 666.0,229.7 668.9,228.9 C671.8,228.1 673.8,227.4 677.0,225.9 C680.2,224.4 684.5,222.0 686.8,220.7 C689.1,219.4 687.7,219.7 690.0,218.5 C692.3,217.3 695.7,215.8 699.8,214.0 C703.9,212.2 708.7,210.4 712.8,208.3 C716.9,206.2 718.5,204.7 722.6,202.6 C726.7,200.5 731.2,198.0 735.6,196.4 C740.0,194.8 742.9,194.9 747.0,193.6 C751.1,192.3 754.6,190.5 758.4,189.2 C762.2,187.9 764.7,187.7 768.2,186.3 C771.7,184.9 774.4,183.2 777.9,181.4 C781.4,179.6 784.3,178.7 787.9,176.5 C791.5,174.3 794.2,172.0 797.7,169.2 C801.2,166.4 803.7,164.0 807.5,161.1 C811.3,158.2 814.8,155.1 818.9,152.9 C823.0,150.7 828.2,149.6 830.3,148.9" fill="none" stroke="#33c9cc" stroke-width="1.45"/>
<line x1="482.5" y1="164.5" x2="840.8" y2="194.1" stroke="#8b9af0" stroke-width="1"/>
<line x1="656.4" y1="241.9" x2="840.8" y2="144.3" stroke="#f2505e" stroke-width="1"/>
<path d="M479.9,155.6 L485.5,155.6 L482.7,160.6 Z" fill="#0a8a0a"/>
<path d="M685.5,172.2 L691.1,172.2 L688.3,177.5 Z" fill="#0a8a0a"/>
<path d="M653.7,250.0 L659.1,250.0 L656.4,244.8 Z" fill="#f01020"/>
<path d="M748.4,200.2 L753.8,200.2 L751.1,195.2 Z" fill="#f01020"/>
<clipPath id="c70"><rect x="0" y="520" width="941" height="16.8"/></clipPath>
<path d="M-2.3,536.8 L-2.3,609.1 L3.0,602.1 L8.2,602.5 L13.5,582.3 L18.8,588.8 L24.1,593.3 L29.3,596.9 L34.6,604.2 L39.9,604.7 L45.1,598.2 L50.4,587.1 L55.7,589.3 L60.9,587.6 L66.2,593.7 L71.5,590.9 L76.7,559.5 L82.0,563.0 L87.3,562.7 L92.5,561.1 L97.8,547.2 L103.1,554.6 L108.3,561.9 L113.6,564.3 L118.9,565.5 L124.1,571.7 L129.4,582.3 L134.7,599.9 L139.9,582.3 L145.2,574.1 L150.5,569.2 L155.8,571.7 L161.0,581.4 L166.3,585.0 L171.6,586.7 L176.8,573.8 L182.1,568.4 L187.4,557.5 L192.6,552.6 L197.9,553.8 L203.2,554.6 L208.4,563.0 L213.7,569.6 L219.0,555.9 L224.2,564.7 L229.5,562.2 L234.8,565.2 L240.0,555.1 L245.3,562.2 L250.6,579.8 L255.8,583.1 L261.1,575.7 L266.4,564.0 L271.6,546.4 L276.9,532.9 L282.2,534.2 L287.5,529.7 L292.7,529.0 L298.0,533.4 L303.3,527.7 L308.5,533.7 L313.8,539.6 L319.1,537.1 L324.3,537.8 L329.6,534.2 L334.9,532.3 L340.1,538.8 L345.4,551.8 L350.7,559.0 L355.9,556.2 L361.2,562.7 L366.5,565.6 L371.7,574.4 L377.0,564.7 L382.3,560.6 L387.5,561.6 L392.8,562.4 L398.1,566.5 L403.3,559.5 L408.6,532.6 L413.9,553.8 L419.2,550.5 L424.4,561.1 L429.7,555.4 L435.0,556.5 L440.2,533.7 L445.5,528.0 L450.8,529.8 L456.0,529.0 L461.3,538.3 L466.6,531.8 L471.8,537.1 L477.1,532.6 L482.4,528.0 L487.6,552.9 L492.9,553.4 L498.2,549.2 L503.4,552.9 L508.7,554.1 L514.0,548.4 L519.2,551.8 L524.5,561.1 L529.8,565.2 L535.0,564.3 L540.3,563.9 L545.6,562.4 L550.9,559.1 L556.1,566.3 L561.4,576.6 L566.7,573.6 L571.9,577.9 L577.2,594.5 L582.5,578.7 L587.7,580.3 L593.0,579.3 L598.3,584.4 L603.5,577.4 L608.8,570.4 L614.1,564.7 L619.3,560.8 L624.6,565.6 L629.9,555.9 L635.1,554.2 L640.4,552.6 L645.7,562.7 L650.9,570.4 L656.2,559.5 L661.5,562.4 L666.7,561.9 L672.0,550.8 L677.3,563.2 L682.6,557.5 L687.8,553.8 L693.1,563.5 L698.4,561.9 L703.6,559.8 L708.9,559.0 L714.2,549.4 L719.4,539.9 L724.7,548.9 L730.0,549.7 L735.2,547.6 L740.5,563.5 L745.8,562.7 L751.0,559.8 L756.3,556.7 L761.6,563.5 L766.8,549.2 L772.1,546.8 L777.4,541.2 L782.6,538.3 L787.9,535.4 L793.2,533.1 L798.4,528.5 L803.7,527.2 L809.0,528.8 L814.3,539.1 L819.5,536.3 L824.8,536.7 L830.1,546.1 L830.1,536.8 Z" fill="#b9b9b9" clip-path="url(#c70)"/>
<path d="M-2.3,609.1 L3.0,602.1 L8.2,602.5 L13.5,582.3 L18.8,588.8 L24.1,593.3 L29.3,596.9 L34.6,604.2 L39.9,604.7 L45.1,598.2 L50.4,587.1 L55.7,589.3 L60.9,587.6 L66.2,593.7 L71.5,590.9 L76.7,559.5 L82.0,563.0 L87.3,562.7 L92.5,561.1 L97.8,547.2 L103.1,554.6 L108.3,561.9 L113.6,564.3 L118.9,565.5 L124.1,571.7 L129.4,582.3 L134.7,599.9 L139.9,582.3 L145.2,574.1 L150.5,569.2 L155.8,571.7 L161.0,581.4 L166.3,585.0 L171.6,586.7 L176.8,573.8 L182.1,568.4 L187.4,557.5 L192.6,552.6 L197.9,553.8 L203.2,554.6 L208.4,563.0 L213.7,569.6 L219.0,555.9 L224.2,564.7 L229.5,562.2 L234.8,565.2 L240.0,555.1 L245.3,562.2 L250.6,579.8 L255.8,583.1 L261.1,575.7 L266.4,564.0 L271.6,546.4 L276.9,532.9 L282.2,534.2 L287.5,529.7 L292.7,529.0 L298.0,533.4 L303.3,527.7 L308.5,533.7 L313.8,539.6 L319.1,537.1 L324.3,537.8 L329.6,534.2 L334.9,532.3 L340.1,538.8 L345.4,551.8 L350.7,559.0 L355.9,556.2 L361.2,562.7 L366.5,565.6 L371.7,574.4 L377.0,564.7 L382.3,560.6 L387.5,561.6 L392.8,562.4 L398.1,566.5 L403.3,559.5 L408.6,532.6 L413.9,553.8 L419.2,550.5 L424.4,561.1 L429.7,555.4 L435.0,556.5 L440.2,533.7 L445.5,528.0 L450.8,529.8 L456.0,529.0 L461.3,538.3 L466.6,531.8 L471.8,537.1 L477.1,532.6 L482.4,528.0 L487.6,552.9 L492.9,553.4 L498.2,549.2 L503.4,552.9 L508.7,554.1 L514.0,548.4 L519.2,551.8 L524.5,561.1 L529.8,565.2 L535.0,564.3 L540.3,563.9 L545.6,562.4 L550.9,559.1 L556.1,566.3 L561.4,576.6 L566.7,573.6 L571.9,577.9 L577.2,594.5 L582.5,578.7 L587.7,580.3 L593.0,579.3 L598.3,584.4 L603.5,577.4 L608.8,570.4 L614.1,564.7 L619.3,560.8 L624.6,565.6 L629.9,555.9 L635.1,554.2 L640.4,552.6 L645.7,562.7 L650.9,570.4 L656.2,559.5 L661.5,562.4 L666.7,561.9 L672.0,550.8 L677.3,563.2 L682.6,557.5 L687.8,553.8 L693.1,563.5 L698.4,561.9 L703.6,559.8 L708.9,559.0 L714.2,549.4 L719.4,539.9 L724.7,548.9 L730.0,549.7 L735.2,547.6 L740.5,563.5 L745.8,562.7 L751.0,559.8 L756.3,556.7 L761.6,563.5 L766.8,549.2 L772.1,546.8 L777.4,541.2 L782.6,538.3 L787.9,535.4 L793.2,533.1 L798.4,528.5 L803.7,527.2 L809.0,528.8 L814.3,539.1 L819.5,536.3 L824.8,536.7 L830.1,546.1" fill="none" stroke="#222" stroke-width="1.1" stroke-linejoin="round"/>
<rect x="2" y="468" width="86" height="14" fill="#fff" fill-opacity="0.85"/>
<rect x="90" y="468" width="99" height="14" fill="#fff" fill-opacity="0.85"/>
<rect x="2" y="529" width="55" height="14" fill="#fff" fill-opacity="0.85"/>
<g font-size="8.2" fill="#333">
<text x="5.3" y="477.8"><tspan font-weight="bold" textLength="21.7" lengthAdjust="spacingAndGlyphs">VWAP</tspan></text>
<text x="30" y="477.8" fill="#555" textLength="28.4" lengthAdjust="spacingAndGlyphs">20 1 2 3</text>
<text x="93" y="477.8" font-weight="bold" textLength="48.5" lengthAdjust="spacingAndGlyphs">AUTO TREND</text>
<text x="144.5" y="477.8" fill="#555" textLength="17.5" lengthAdjust="spacingAndGlyphs">4 3 2</text>
<text x="5.6" y="539.6" font-weight="bold" font-size="8.6" textLength="11.5" lengthAdjust="spacingAndGlyphs">RSI</text>
<text x="20" y="539.6" fill="#555" textLength="8" lengthAdjust="spacingAndGlyphs">14</text>
</g>
<g transform="translate(66.5,474.9)"><circle r="2.6" fill="none" stroke="#8a8a8a" stroke-width="1.7"/><rect x="-0.8" y="-4.2" width="1.6" height="1.8" fill="#8a8a8a" transform="rotate(0)"/><rect x="-0.8" y="-4.2" width="1.6" height="1.8" fill="#8a8a8a" transform="rotate(45)"/><rect x="-0.8" y="-4.2" width="1.6" height="1.8" fill="#8a8a8a" transform="rotate(90)"/><rect x="-0.8" y="-4.2" width="1.6" height="1.8" fill="#8a8a8a" transform="rotate(135)"/><rect x="-0.8" y="-4.2" width="1.6" height="1.8" fill="#8a8a8a" transform="rotate(180)"/><rect x="-0.8" y="-4.2" width="1.6" height="1.8" fill="#8a8a8a" transform="rotate(225)"/><rect x="-0.8" y="-4.2" width="1.6" height="1.8" fill="#8a8a8a" transform="rotate(270)"/><rect x="-0.8" y="-4.2" width="1.6" height="1.8" fill="#8a8a8a" transform="rotate(315)"/></g>
<path d="M76.8,472.2 L82.2,477.59999999999997 M82.2,472.2 L76.8,477.59999999999997" stroke="#8a8a8a" stroke-width="1.8" fill="none"/>
<g transform="translate(170,474.9)"><circle r="2.6" fill="none" stroke="#8a8a8a" stroke-width="1.7"/><rect x="-0.8" y="-4.2" width="1.6" height="1.8" fill="#8a8a8a" transform="rotate(0)"/><rect x="-0.8" y="-4.2" width="1.6" height="1.8" fill="#8a8a8a" transform="rotate(45)"/><rect x="-0.8" y="-4.2" width="1.6" height="1.8" fill="#8a8a8a" transform="rotate(90)"/><rect x="-0.8" y="-4.2" width="1.6" height="1.8" fill="#8a8a8a" transform="rotate(135)"/><rect x="-0.8" y="-4.2" width="1.6" height="1.8" fill="#8a8a8a" transform="rotate(180)"/><rect x="-0.8" y="-4.2" width="1.6" height="1.8" fill="#8a8a8a" transform="rotate(225)"/><rect x="-0.8" y="-4.2" width="1.6" height="1.8" fill="#8a8a8a" transform="rotate(270)"/><rect x="-0.8" y="-4.2" width="1.6" height="1.8" fill="#8a8a8a" transform="rotate(315)"/></g>
<path d="M180.3,472.2 L185.7,477.59999999999997 M185.7,472.2 L180.3,477.59999999999997" stroke="#8a8a8a" stroke-width="1.8" fill="none"/>
<g transform="translate(36,536.6)"><circle r="2.6" fill="none" stroke="#8a8a8a" stroke-width="1.7"/><rect x="-0.8" y="-4.2" width="1.6" height="1.8" fill="#8a8a8a" transform="rotate(0)"/><rect x="-0.8" y="-4.2" width="1.6" height="1.8" fill="#8a8a8a" transform="rotate(45)"/><rect x="-0.8" y="-4.2" width="1.6" height="1.8" fill="#8a8a8a" transform="rotate(90)"/><rect x="-0.8" y="-4.2" width="1.6" height="1.8" fill="#8a8a8a" transform="rotate(135)"/><rect x="-0.8" y="-4.2" width="1.6" height="1.8" fill="#8a8a8a" transform="rotate(180)"/><rect x="-0.8" y="-4.2" width="1.6" height="1.8" fill="#8a8a8a" transform="rotate(225)"/><rect x="-0.8" y="-4.2" width="1.6" height="1.8" fill="#8a8a8a" transform="rotate(270)"/><rect x="-0.8" y="-4.2" width="1.6" height="1.8" fill="#8a8a8a" transform="rotate(315)"/></g>
<path d="M46.3,533.9 L51.7,539.3000000000001 M51.7,533.9 L46.3,539.3000000000001" stroke="#8a8a8a" stroke-width="1.8" fill="none"/>
<path d="M65.5,541 L65.5,532.6 M62,536 L65.5,532.4 L69,536" stroke="#777" stroke-width="1" fill="none"/>
<g font-size="9" fill="#666">
<text x="946" y="75.6" textLength="29.5" lengthAdjust="spacingAndGlyphs">1.20000</text>
<text x="946" y="129.1" textLength="29.5" lengthAdjust="spacingAndGlyphs">1.17500</text>
<text x="946" y="182.6" textLength="29.5" lengthAdjust="spacingAndGlyphs">1.15000</text>
<text x="946" y="236.1" textLength="29.5" lengthAdjust="spacingAndGlyphs">1.12500</text>
<text x="946" y="289.6" textLength="29.5" lengthAdjust="spacingAndGlyphs">1.10000</text>
<text x="946" y="343.1" textLength="29.5" lengthAdjust="spacingAndGlyphs">1.07500</text>
<text x="946" y="396.6" textLength="29.5" lengthAdjust="spacingAndGlyphs">1.05000</text>
<text x="946" y="450.1" textLength="29.5" lengthAdjust="spacingAndGlyphs">1.02500</text>
<text x="946" y="503.6" textLength="29.5" lengthAdjust="spacingAndGlyphs">1.00000</text>
<text x="946" y="538.9" textLength="16.5" lengthAdjust="spacingAndGlyphs">70.0</text>
<text x="946" y="557.3" textLength="16.5" lengthAdjust="spacingAndGlyphs">60.0</text>
<text x="946" y="575.7" textLength="16.5" lengthAdjust="spacingAndGlyphs">50.0</text>
<text x="946" y="594.1" textLength="16.5" lengthAdjust="spacingAndGlyphs">40.0</text>
<text x="946" y="612.5" textLength="16.5" lengthAdjust="spacingAndGlyphs">30.0</text>
<text x="131.6" y="635.2" text-anchor="middle" font-size="8.8" fill="#777">Feb</text>
<text x="258.5" y="635.2" text-anchor="middle" font-size="8.8" fill="#777">Mar</text>
<text x="395.5" y="635.2" text-anchor="middle" font-size="8.8" fill="#777">Apr</text>
<text x="527.4" y="635.2" text-anchor="middle" font-size="8.8" fill="#777">May</text>
<text x="664.5" y="635.2" text-anchor="middle" font-size="8.8" fill="#777">Jun</text>
<text x="801.6" y="635.2" text-anchor="middle" font-size="8.8" fill="#777">Jul</text>
</g>
<path d="M935.5,97.3 L941.5,91.5 L976.3,91.5 Q977.8,91.5 977.8,93.0 L977.8,101.6 Q977.8,103.1 976.3,103.1 L941.5,103.1 Z" fill="#ff7f1e"/><text x="946" y="100.5" font-size="9" fill="#222" textLength="29.5" lengthAdjust="spacingAndGlyphs">1.18897</text>
<path d="M935.5,127.3 L941.5,121.5 L980.5,121.5 Q982.0,121.5 982.0,123.0 L982.0,131.6 Q982.0,133.1 980.5,133.1 L941.5,133.1 Z" fill="#5c5ea8"/><text x="946" y="130.5" font-size="9" fill="#fff" textLength="33.8" lengthAdjust="spacingAndGlyphs">1.174845</text>
<path d="M935.5,149.2 L941.5,143.39999999999998 L976.3,143.39999999999998 Q977.8,143.39999999999998 977.8,144.89999999999998 L977.8,153.5 Q977.8,155.0 976.3,155.0 L941.5,155.0 Z" fill="#33c9cc"/><text x="946" y="152.4" font-size="9" fill="#222" textLength="29.5" lengthAdjust="spacingAndGlyphs">1.16460</text>
<path d="M935.5,201.3 L941.5,195.5 L976.3,195.5 Q977.8,195.5 977.8,197.0 L977.8,205.60000000000002 Q977.8,207.10000000000002 976.3,207.10000000000002 L941.5,207.10000000000002 Z" fill="#ff7f1e"/><text x="946" y="204.5" font-size="9" fill="#222" textLength="29.5" lengthAdjust="spacingAndGlyphs">1.14024</text>
<path d="M935.5,546.2 L941.5,540.4000000000001 L962.5,540.4000000000001 Q964.0,540.4000000000001 964.0,541.9000000000001 L964.0,550.5 Q964.0,552.0 962.5,552.0 L941.5,552.0 Z" fill="#000"/><text x="946" y="549.4" font-size="9" fill="#fff" textLength="16.5" lengthAdjust="spacingAndGlyphs">65.2</text>
</svg>
</body></html>
